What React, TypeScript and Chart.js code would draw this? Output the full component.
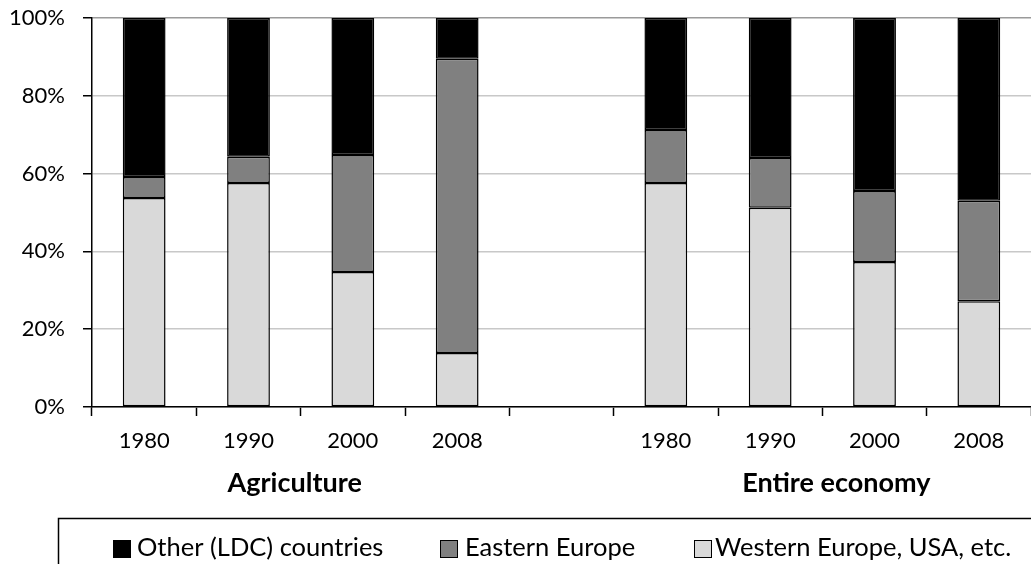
import React, { useEffect, useRef } from "react";
import { Chart, registerables } from "chart.js";

Chart.register(...registerables);

const categories = ["1980", "1990", "2000", "2008", "", "1980", "1990", "2000", "2008"];
const westernEurope = [53.7, 57.6, 34.7, 13.9, null, 57.6, 51.2, 37.3, 27.2];
const easternEurope = [5.4, 6.7, 30.1, 75.6, null, 13.6, 12.8, 18.2, 25.8];
const otherLDC = [40.9, 35.7, 35.2, 10.5, null, 28.8, 36.0, 44.5, 47.0];
const groupLabels = ["Agriculture", "Entire economy"];
const seriesLabels = ["Western Europe, USA, etc.", "Eastern Europe", "Other (LDC) countries"];
const yTicks = [0, 20, 40, 60, 80, 100];

const FONT = "Lato";

const extrasPlugin = {
  id: "extras",
  afterDraw(chart: any) {
    const ctx = chart.ctx;
    const x = chart.scales.x;
    ctx.save();
    // group labels
    ctx.fillStyle = "#000";
    ctx.font = `bold 27px ${FONT}`;
    ctx.textAlign = "center";
    ctx.textBaseline = "alphabetic";
    const g1 = (x.getPixelForValue(1) + x.getPixelForValue(2)) / 2 - 6;
    const g2 = (x.getPixelForValue(6) + x.getPixelForValue(7)) / 2 + 14;
    ctx.fillText(groupLabels[0], g1, 492);
    ctx.fillText(groupLabels[1], g2, 492);
    // legend box
    ctx.strokeStyle = "#000";
    ctx.lineWidth = 1.5;
    ctx.strokeRect(58.5, 518.5, 1100, 100);
    // legend items (drawn in reverse dataset order)
    const items = [
      { ds: 2, sx: 113, tx: 137 },
      { ds: 1, sx: 440, tx: 465 },
      { ds: 0, sx: 694, tx: 715 },
    ];
    ctx.font = `25.5px ${FONT}`;
    ctx.textAlign = "left";
    items.forEach((it) => {
      const d = chart.data.datasets[it.ds];
      ctx.fillStyle = d.backgroundColor;
      ctx.fillRect(it.sx, 540, 17, 17);
      ctx.lineWidth = 1;
      ctx.strokeStyle = "#000";
      ctx.strokeRect(it.sx + 0.5, 540.5, 17, 17);
      ctx.fillStyle = "#000";
      ctx.fillText(d.label, it.tx, 556);
    });
    ctx.restore();
  },
};

export default function App() {
  const ref = useRef<HTMLCanvasElement | null>(null);
  useEffect(() => {
    if (!ref.current) return;
    const mk = (label: string, data: any[], color: string) => ({
      label,
      data,
      backgroundColor: color,
      borderColor: "#000",
      borderWidth: 1.5,
      borderSkipped: false,
      categoryPercentage: 1,
      barPercentage: 0.41,
    });
    const chart = new Chart(ref.current, {
      type: "bar",
      data: {
        labels: categories,
        datasets: [
          mk(seriesLabels[0], westernEurope, "#d9d9d9"),
          mk(seriesLabels[1], easternEurope, "#808080"),
          mk(seriesLabels[2], otherLDC, "#000000"),
        ],
      },
      options: {
        responsive: false,
        animation: false,
        devicePixelRatio: 1,
        layout: { padding: { top: 18, left: 0, right: 0, bottom: 0 } },
        plugins: { legend: { display: false }, tooltip: { enabled: false } },
        scales: {
          x: {
            stacked: true,
            grid: {
              offset: true,
              drawOnChartArea: false,
              tickLength: 9,
              tickColor: "#000",
              tickWidth: 1.5,
            },
            border: { color: "#000", width: 1.5 },
            ticks: {
              color: "#000",
              font: { family: FONT, size: 22 },
              padding: 12,
              maxRotation: 0,
              autoSkip: false,
            },
            afterFit: (s: any) => {
              s.height = 157;
              s.paddingLeft = 0;
              s.paddingRight = 0;
            },
          },
          y: {
            stacked: true,
            min: 0,
            max: 100,
            afterBuildTicks: (s: any) => {
              s.ticks = yTicks.map((v) => ({ value: v }));
            },
            grid: {
              color: (c: any) => (c.tick && c.tick.value === 100 ? "#9a9a9a" : "#c8c8c8"),
              lineWidth: 1.5,
              tickLength: 9,
              tickColor: "#000",
              tickWidth: 1.5,
            },
            border: { color: "#000", width: 1.5 },
            ticks: {
              color: "#000",
              font: { family: FONT, size: 22 },
              padding: 18,
              callback: (v: any) => v + "%",
            },
            afterFit: (s: any) => {
              s.width = 92;
              s.paddingTop = 0;
              s.paddingBottom = 0;
            },
          },
        },
      },
      plugins: [extrasPlugin],
    });
    return () => chart.destroy();
  }, []);
  return (
    <div style={{ position: "absolute", left: 0, top: 0, width: 1031, height: 564, background: "#fff" }}>
      <canvas ref={ref} width={1031} height={564} style={{ display: "block" }} />
    </div>
  );
}
